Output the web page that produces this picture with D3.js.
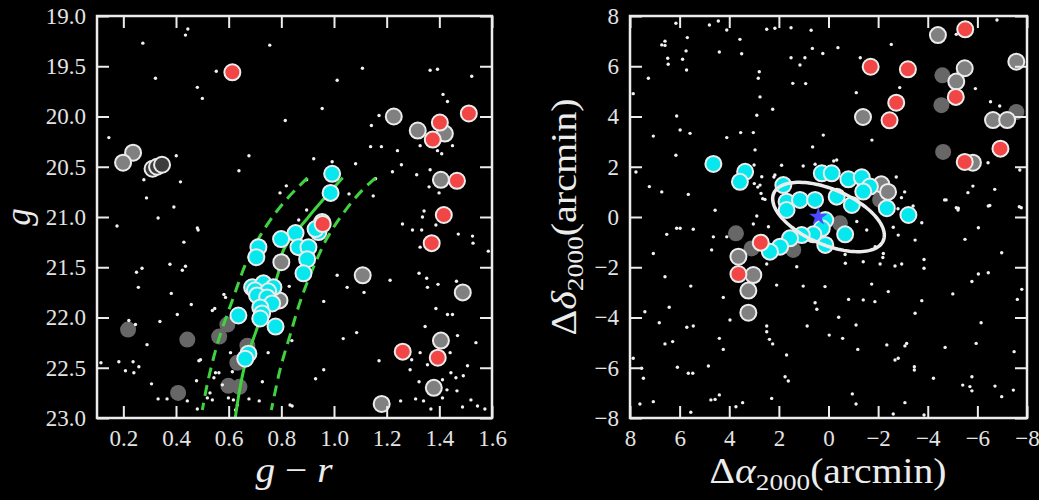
<!DOCTYPE html>
<html>
<head>
<meta charset="utf-8">
<script src="https://cdn.jsdelivr.net/npm/d3@7"></script>
<style>
  html, body { margin: 0; padding: 0; background: #000; }
  svg { display: block; }
</style>
</head>
<body>
<svg id="fig" width="1039" height="500"></svg>
<script>
// ---------------- Colour–magnitude diagram (g - r, g) ----------------
const cmdTicksX = [0.2, 0.4, 0.6, 0.8, 1.0, 1.2, 1.4, 1.6];
const cmdTicksY = [19.0, 19.5, 20.0, 20.5, 21.0, 21.5, 22.0, 22.5, 23.0];

// member candidates
const cmdMembers = [
  [0.993, 20.57], [0.987, 20.76], [0.955, 21.05], [0.941, 21.15], [0.930, 21.12],
  [0.854, 21.16], [0.799, 21.22], [0.865, 21.30], [0.903, 21.30], [0.898, 21.42],
  [0.884, 21.56], [0.713, 21.30], [0.705, 21.40], [0.689, 21.70], [0.732, 21.66],
  [0.770, 21.70], [0.700, 21.73], [0.750, 21.74], [0.708, 21.78], [0.746, 21.80],
  [0.765, 21.86], [0.720, 21.90], [0.727, 21.96], [0.720, 22.01], [0.778, 22.09],
  [0.637, 21.98], [0.675, 22.36], [0.663, 22.41]
];
// foreground stars with spectra
const cmdForeground = [
  [0.614, 19.56], [1.512, 19.97], [1.402, 20.06], [1.375, 20.23], [1.467, 20.64],
  [1.417, 20.98], [1.371, 21.26], [0.957, 21.07], [1.261, 22.34], [1.394, 22.40]
];
// non-members with spectra
const cmdNonMembers = [
  [1.227, 20.00], [1.318, 20.14], [1.421, 20.17], [1.406, 20.63], [0.237, 20.36],
  [0.199, 20.46], [1.109, 21.58], [1.489, 21.75], [1.406, 22.23], [1.379, 22.70],
  [1.181, 22.86], [0.800, 21.45], [0.793, 21.83]
];
// galaxies / unresolved spectra
const cmdOpen = [[0.311, 20.52], [0.328, 20.50], [0.347, 20.48]];
// low-S/N spectra
const cmdLowSN = [
  [0.218, 22.12], [0.443, 22.22], [0.408, 22.75], [0.595, 22.07], [0.564, 22.19],
  [0.599, 22.68], [0.641, 22.69], [0.671, 22.28], [0.633, 22.45]
];
// photometric field stars
const cmdField = [
  [0.445,19.13],[0.436,19.19],[0.274,19.27],[0.756,19.29],[0.553,19.55],[0.322,19.62],[0.481,19.71],
  [0.500,19.82],[0.815,20.04],[0.145,20.21],[0.401,20.39],[0.677,20.39],[0.639,20.54],[0.278,20.63],
  [0.417,20.65],[0.288,20.81],[0.392,20.90],[0.795,20.76],[0.819,20.69],
  [1.108,19.52],[1.012,19.64],[1.365,19.54],[1.393,19.53],[1.523,19.60],[1.414,19.78],[1.431,19.85],
  [0.955,19.92],[1.171,19.99],[1.142,20.09],[1.139,20.30],[1.180,20.30],[1.241,20.34],[1.327,20.29],
  [1.393,20.34],[1.409,20.37],[1.450,20.29],[0.923,20.42],[0.993,20.45],[1.082,20.47],[1.256,20.48],
  [1.222,20.55],[1.314,20.58],[1.365,20.53],[1.361,20.70],[0.896,20.63],[1.057,20.77],[1.149,20.79],
  [1.158,20.62],[0.896,20.93],[1.342,20.94],[1.399,20.76],
  [0.176,21.09],[0.332,21.01],[0.481,21.11],[0.484,21.13],[0.430,21.25],[0.271,21.51],[0.250,21.55],
  [0.377,21.47],[0.436,21.49],[0.424,21.53],[0.257,21.70],[0.382,21.76],[0.582,21.77],[0.588,21.80],
  [0.458,21.87],[0.547,21.91],[0.538,21.93],[0.405,21.97],[0.339,22.04],[0.221,22.03],[0.246,22.07],
  [0.290,22.27],[0.115,22.45],[0.183,22.44],[0.208,22.53],[0.237,22.44],[0.240,22.55],[0.259,22.49],
  [0.307,22.66],[0.332,22.81],[0.366,22.81],[0.443,22.83],[0.478,22.63],[0.487,22.43],[0.493,22.42],
  [0.481,22.91],[0.519,22.80],[0.529,22.75],[0.538,22.82],[0.544,22.60],[0.550,22.55],[0.563,22.55],
  [0.576,22.67],[0.599,22.80],[0.607,22.35],[0.614,22.54],[0.618,22.82],[0.633,22.87],[0.626,22.92],
  [0.677,22.81],[0.716,22.83],[0.728,22.64],[0.750,22.35],[0.830,21.69],[0.840,22.23],[0.833,22.87],
  [1.260,21.07],[1.298,21.13],[1.333,21.13],[1.387,21.08],[1.472,21.17],[1.526,21.19],[1.528,21.26],
  [1.327,21.30],[1.586,21.34],[1.012,21.58],[1.050,21.70],[1.114,21.75],[1.213,21.63],[1.323,21.56],
  [1.352,21.61],[1.355,21.70],[1.395,21.67],[1.465,21.64],[0.961,21.84],[1.387,21.91],[1.431,21.97],
  [1.450,21.97],[1.346,22.09],[1.086,22.15],[1.035,22.21],[1.469,22.18],[1.539,22.25],[1.327,22.35],
  [1.441,22.35],[1.171,22.43],[1.295,22.42],[1.355,22.47],[1.507,22.48],[0.961,22.52],[0.930,22.61],
  [1.289,22.52],[1.444,22.55],[1.463,22.60],[1.491,22.58],[1.323,22.64],[1.412,22.62],[1.467,22.73],
  [1.429,22.72],[1.253,22.83],[1.310,22.81],[1.340,22.83],[1.368,22.91],[1.412,22.80],[1.520,22.82],
  [1.545,22.88],[1.488,22.89],[1.573,22.91],[0.841,22.88],[0.866,21.03],[1.336,21.00]
];
// isochrone ridge line and its colour-window edges
const isoRidge = [
  [1.033, 20.61], [0.903, 21.00], [0.808, 21.33], [0.789, 21.55], [0.709, 22.10], [0.663, 22.46], [0.625, 23.00]
];
const isoBlueEdge = [
  [0.899, 20.61], [0.808, 20.86], [0.728, 21.15], [0.671, 21.43], [0.618, 21.80], [0.561, 22.23], [0.519, 22.66], [0.500, 22.92]
];
const isoRedEdge = [
  [1.158, 20.61], [1.120, 20.70], [1.036, 20.96], [0.976, 21.20], [0.922, 21.50], [0.873, 21.83], [0.835, 22.16], [0.797, 22.50], [0.770, 22.82], [0.762, 22.92]
];

// ---------------- Sky positions (arcmin offsets) ----------------
const skyTicks = [8, 6, 4, 2, 0, -2, -4, -6, -8];

const skyMembers = [
  [4.64,2.11],[3.36,1.80],[3.57,1.40],[1.82,1.27],[0.27,1.74],[-0.13,1.74],[-0.80,1.50],[-1.34,1.58],
  [-1.67,1.21],[-1.40,1.01],[-0.33,0.81],[-0.94,0.48],[-2.35,0.35],[-3.22,0.08],[1.69,0.61],[1.15,0.68],
  [0.54,0.68],[1.69,0.28],[0.13,-0.12],[0.27,-0.45],[-0.67,-0.69],[0.61,-0.69],[1.08,-0.72],[1.55,-0.85],
  [1.95,-1.18],[2.36,-1.38],[0.13,-1.11]
];
const skyForeground = [
  [-5.51,7.47],[-1.70,5.98],[-3.20,5.88],[-2.73,4.55],[-2.46,3.85],[-5.13,4.78],[-6.93,2.72],[-5.49,2.19],
  [2.73,-1.02],[3.63,-2.27]
];
const skyNonMembers = [
  [-4.41,7.24],[-7.57,6.18],[-5.49,5.92],[-5.15,5.39],[-1.39,3.98],[-6.63,3.86],[-7.20,3.86],[-5.82,2.16],
  [-2.13,1.30],[-2.40,1.00],[3.63,-1.58],[3.03,-2.31],[3.23,-2.93],[3.23,-3.81]
];
const skyLowSN = [
  [-4.59,5.64],[-4.55,4.45],[-4.62,2.59],[-7.57,4.18],[3.73,-0.65],[3.10,-1.25],[1.42,-1.31],[-0.46,-0.25],[-2.08,0.68]
];
const skyField = [
  [6.15,7.71],[4.80,7.64],[4.44,7.80],[4.10,7.44],[2.49,7.47],[2.16,7.51],[1.51,7.53],[0.70,7.43],
  [3.57,7.07],[5.69,7.14],[6.72,6.85],[6.59,7.00],[6.59,6.83],[5.74,6.61],[4.40,6.57],[3.50,6.50],
  [6.48,6.32],[5.88,6.28],[6.46,6.08],[5.72,5.85],[1.51,6.34],[0.95,6.34],[0.65,6.71],[0.23,6.51],
  [1.15,6.05],[2.79,5.78],[2.83,5.52],[7.26,5.52],[1.44,5.32],[0.92,5.31],[2.76,4.78],[7.87,4.91],
  [2.89,4.05],[2.25,4.29],[6.12,4.02],[5.98,3.46],[5.58,3.33],[7.06,3.22],[4.10,3.16],[3.54,3.36],
  [3.03,3.36],[0.21,3.26],[0.64,2.79],[6.15,2.46],[2.96,2.67],[1.89,2.06],[1.02,2.03],[0.54,2.10],
  [7.76,1.79],[7.22,1.21],[6.72,1.00],[5.65,0.90],[2.99,1.33],[2.85,1.19],[2.72,0.94],[2.65,0.73],
  [4.57,0.27],[2.20,1.59],
  [-0.38,6.74],[-1.28,6.34],[-2.53,6.87],[-6.79,7.84],[-5.15,7.27],[-1.12,4.95],[-2.87,5.15],[-5.92,5.11],
  [-6.53,4.59],[-6.90,4.42],[-1.75,3.06],[-6.43,2.16],[-7.71,1.87],[-0.21,2.23],[-2.73,1.59],[-3.07,1.00],
  [-2.94,0.77],[-4.68,0.68],[-5.62,0.97],[-5.82,1.23],[-6.70,1.10],[-7.77,0.37],[-5.15,0.37],[-5.22,0.28],
  [-6.50,0.46],[-3.41,0.44],[-2.80,0.33],
  [6.12,-0.45],[5.98,-0.45],[5.45,-0.49],[6.52,-0.69],[3.03,-0.28],[2.89,0.04],[-3.76,-0.23],[-4.74,0.68],
  [-5.23,0.35],[-6.44,0.44],[-7.69,0.41],[-6.04,-0.43],[-5.50,-0.89],[-3.49,-0.92],
  [7.06,-1.45],[6.59,-2.38],[5.55,-2.75],[4.24,-3.20],[7.40,-3.77],[6.42,-3.59],[6.82,-4.21],[5.71,-4.39],
  [5.45,-4.34],[3.97,-4.10],[4.40,-4.83],[4.24,-5.27],[6.59,-5.05],[6.28,-4.96],[7.87,-5.62],[7.53,-6.02],
  [7.46,-6.42],[6.09,-5.98],[5.65,-6.22],[5.47,-6.22],[4.84,-5.93],[7.60,-7.44],[7.06,-7.35],[5.55,-7.77],
  [4.74,-7.28],[4.57,-7.26],[4.40,-7.08],[3.73,-7.55],[3.46,-7.39],[2.49,-4.34],[2.49,-4.57],[2.38,-4.87],
  [2.25,-5.05],[1.69,-5.49],[1.75,-6.36],[1.62,-6.53],[2.29,-7.22],[2.09,-2.71],[2.49,-1.87],[1.02,-2.75],
  [0.86,-4.34],[0.14,-2.77],[0.54,-3.41],[0.47,-3.67],[-0.03,-4.70],[-0.41,-3.99],[-0.57,-4.83],[-0.68,-1.84],
  [-0.81,-3.28],[-1.11,-4.30],[-1.18,-5.27],[-0.96,-7.04],[-1.11,-7.44],[-1.40,-3.30],[-1.40,-1.78],[-1.74,-2.67],
  [-1.87,-3.37],[-2.35,-5.09],[-2.41,-2.97],[-2.19,-1.61],[-2.68,-1.95],[-2.95,-1.87],[-2.68,-5.69],[-2.81,-5.62],
  [-3.08,-5.13],[-3.15,-5.03],[-2.61,-7.84],[-3.08,-7.39],[-3.49,-3.83],[-3.76,-3.33],[-3.85,-1.69],[-3.85,-2.04],
  [-3.85,-7.88],[-3.46,-5.96],[-3.46,-6.09],[-4.23,-6.42],[-4.70,-5.19],[-5.01,-3.06],[-5.78,-2.57],[-6.04,-2.27],
  [-6.44,-2.22],[-6.15,-4.21],[-5.95,-5.03],[-5.41,-6.69],[-5.70,-6.75],[-5.78,-6.36],[-5.78,-6.92],[-6.71,-6.73],
  [-6.98,-7.15],[-7.45,-6.89],[-7.48,-5.36],[-7.61,-3.28],[-7.79,-2.88],[-6.98,-1.42],
  [4.64,-0.79],[4.71,-1.31],[4.10,-0.79],[3.00,2.07],[2.69,1.60],[2.76,1.27],[2.56,0.70],[2.42,-0.39],
  [2.16,1.67],[-0.33,2.27],[-2.61,-0.41],[-2.81,-0.72],[-1.14,-0.18],[-1.54,-0.52],[-1.88,-1.18],[-2.21,-1.45],
  [-2.08,-1.87],[-0.67,-1.49],[1.28,-1.98]
];
// optical centre and half-light ellipse (semi-axes in arcmin, tilt from the RA axis in degrees)
const skyCentre = [0.41, 0.01];
const halfLight = { a: 2.4, b: 1.1, tilt: 23 };

// ---------------- Drawing ----------------
const svg = d3.select("#fig");
svg.append("rect").attr("width", 1039).attr("height", 500).attr("fill", "#000");

const FG = "#ececec";
const SERIF = "'Liberation Serif', 'Times New Roman', serif";
const COL = { member: "#06e8ee", fore: "#f24545", non: "#808080", low: "#676767", field: "#f2f2f2", line: "#3fd43f" };
const R = 8;

function makePanel(x0, x1, y0, y1, xDom, yDom, xTicks, yTicks, fmt) {
  const x = d3.scaleLinear().domain(xDom).range([x0, x1]);
  const y = d3.scaleLinear().domain(yDom).range([y0, y1]);
  const g = svg.append("g");
  const layers = {
    low: g.append("g"), field: g.append("g"), lines: g.append("g"),
    marks: g.append("g"), top: g.append("g"), axes: g.append("g")
  };
  const style = sel => {
    sel.attr("font-family", SERIF).attr("font-size", 23);
    sel.select(".domain").remove();
    sel.selectAll(".tick line").attr("stroke", FG).attr("stroke-width", 2);
    sel.selectAll(".tick text").attr("fill", "#e4e4e4")
      .style("font-family", SERIF).style("font-size", "23px");
  };
  layers.axes.append("g").attr("transform", `translate(0,${y1})`)
    .call(d3.axisBottom(x).tickValues(xTicks).tickSize(-12).tickPadding(12).tickFormat(fmt.x)).call(style);
  layers.axes.append("g").attr("transform", `translate(0,${y0})`)
    .call(d3.axisTop(x).tickValues(xTicks).tickSize(-12).tickFormat("")).call(style);
  layers.axes.append("g").attr("transform", `translate(${x0},0)`)
    .call(d3.axisLeft(y).tickValues(yTicks).tickSize(-12).tickPadding(11).tickFormat(fmt.y)).call(style);
  layers.axes.append("g").attr("transform", `translate(${x1},0)`)
    .call(d3.axisRight(y).tickValues(yTicks).tickSize(-12).tickFormat("")).call(style);
  layers.axes.append("rect").attr("x", x0).attr("y", y0)
    .attr("width", x1 - x0).attr("height", y1 - y0)
    .attr("fill", "none").attr("stroke", FG).attr("stroke-width", 2.5);
  return { x, y, layers };
}

function dots(layer, data, p, r, fill, stroke) {
  layer.append("g").selectAll("circle").data(data).join("circle")
    .attr("cx", d => p.x(d[0])).attr("cy", d => p.y(d[1])).attr("r", r)
    .attr("fill", fill)
    .attr("stroke", stroke || "none").attr("stroke-width", stroke ? 2 : 0);
}

function title(x, y, rotate, width) {
  const t = svg.append("text")
    .attr("transform", `translate(${x},${y})` + (rotate ? " rotate(-90)" : ""))
    .attr("text-anchor", "middle").attr("fill", FG)
    .style("font-family", SERIF).style("font-size", "35px");
  if (width) t.attr("textLength", width).attr("lengthAdjust", "spacingAndGlyphs");
  return t;
}

// ----- left panel -----
const cmd = makePanel(97, 492, 16, 418, [0.1, 1.6], [19, 23], cmdTicksX, cmdTicksY,
  { x: d3.format(".1f"), y: d3.format(".1f") });

dots(cmd.layers.low, cmdLowSN, cmd, R, COL.low);
dots(cmd.layers.field, cmdField, cmd, 1.7, COL.field);

const line = d3.line().curve(d3.curveMonotoneY).x(d => cmd.x(d[0])).y(d => cmd.y(d[1]));
cmd.layers.lines.append("path").attr("d", line(isoRidge))
  .attr("fill", "none").attr("stroke", COL.line).attr("stroke-width", 3);
[isoBlueEdge, isoRedEdge].forEach(edge => {
  cmd.layers.lines.append("path").attr("d", line(edge))
    .attr("fill", "none").attr("stroke", COL.line).attr("stroke-width", 3)
    .attr("stroke-dasharray", "11,7");
});

dots(cmd.layers.marks, cmdOpen, cmd, R, "#3c3c3c", FG);
dots(cmd.layers.marks, cmdNonMembers, cmd, R, COL.non, FG);
dots(cmd.layers.marks, cmdMembers, cmd, R, COL.member, FG);
dots(cmd.layers.marks, cmdForeground, cmd, R, COL.fore, FG);

// axis titles
title(30, 217, true, 0).style("font-style", "italic").text("g");
const cmdXTitle = title(294, 482, false, 77);
cmdXTitle.append("tspan").style("font-style", "italic").text("g");
cmdXTitle.append("tspan").text(" \u2212 ");
cmdXTitle.append("tspan").style("font-style", "italic").text("r");

// ----- right panel -----
const sky = makePanel(630, 1027, 16, 418, [8, -8], [8, -8], skyTicks, skyTicks,
  { x: d3.format("d"), y: d3.format("d") });

dots(sky.layers.low, skyLowSN, sky, R, COL.low);
dots(sky.layers.field, skyField, sky, 1.7, COL.field);
dots(sky.layers.marks, skyNonMembers, sky, R, COL.non, FG);
dots(sky.layers.marks, skyMembers, sky, R, COL.member, FG);
dots(sky.layers.marks, skyForeground, sky, R, COL.fore, FG);

// half-light ellipse traced in data coordinates
const th = halfLight.tilt * Math.PI / 180;
const ell = d3.range(0, 361, 3).map(t => {
  const u = t * Math.PI / 180;
  const ca = halfLight.a * Math.cos(u), cb = halfLight.b * Math.sin(u);
  return [ca * Math.cos(th) - cb * Math.sin(th), ca * Math.sin(th) + cb * Math.cos(th)];
});
sky.layers.top.append("path")
  .attr("d", d3.line().x(d => sky.x(d[0])).y(d => sky.y(d[1]))(ell) + "Z")
  .attr("fill", "none").attr("stroke", FG).attr("stroke-width", 3.5);
sky.layers.top.append("path")
  .attr("d", d3.symbol(d3.symbolStar, 105)())
  .attr("transform", `translate(${sky.x(skyCentre[0])},${sky.y(skyCentre[1])})`)
  .attr("fill", "#4a4aff");

// axis titles
const skyYTitle = title(576, 217, true, 237);
skyYTitle.append("tspan").text("\u0394");
skyYTitle.append("tspan").style("font-style", "italic").text("\u03b4");
skyYTitle.append("tspan").attr("dy", 7).style("font-size", "24px").text("2000");
skyYTitle.append("tspan").attr("dy", -7).text("(arcmin)");

const skyXTitle = title(828, 483, false, 237);
skyXTitle.append("tspan").text("\u0394");
skyXTitle.append("tspan").style("font-style", "italic").text("\u03b1");
skyXTitle.append("tspan").attr("dy", 7).style("font-size", "24px").text("2000");
skyXTitle.append("tspan").attr("dy", -7).text("(arcmin)");
</script>
</body>
</html>
